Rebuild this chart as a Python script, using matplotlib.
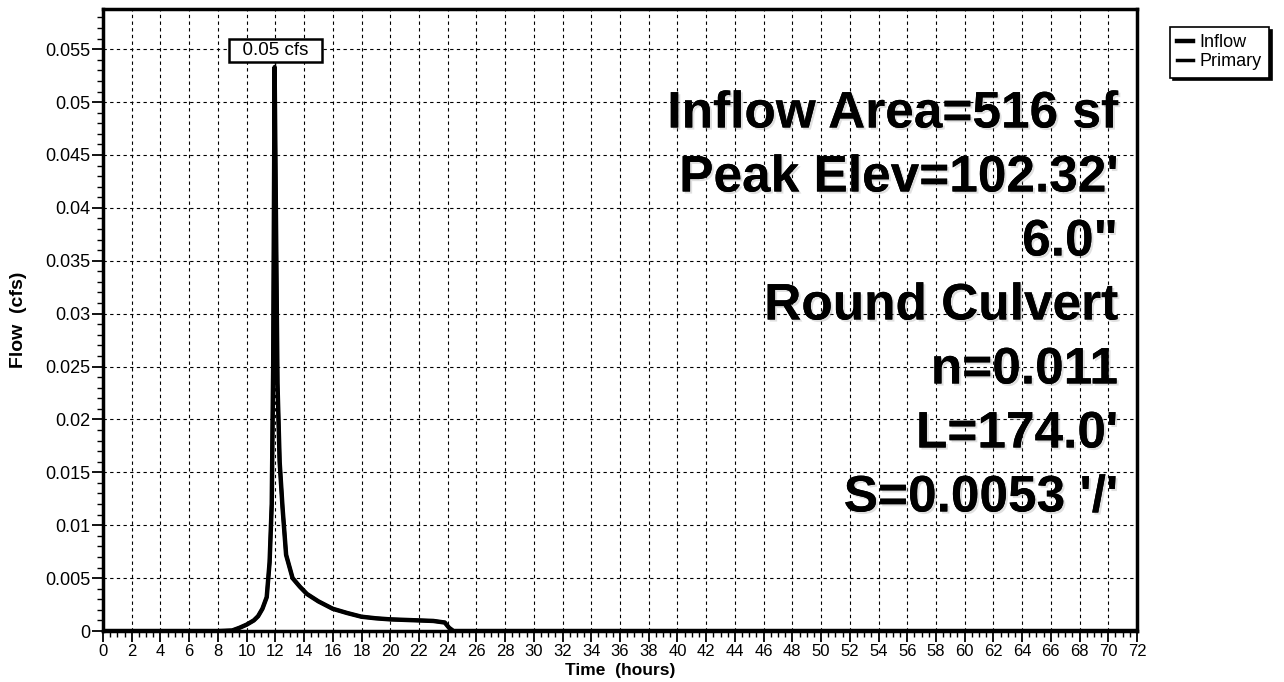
import matplotlib.pyplot as plt
from matplotlib.ticker import MultipleLocator
import matplotlib.patheffects as pe

# hydrograph (hours, cfs)
time_hr = [0, 8.0, 9.0, 9.5, 10.0, 10.5, 10.8, 11.1, 11.4, 11.6, 11.75, 11.85,
           11.95, 12.05, 12.15, 12.3, 12.5, 12.75, 13.2, 13.7, 14.2, 15.0, 16.0,
           17.0, 18.0, 19.0, 20.0, 21.0, 22.0, 23.0, 23.8, 24.1, 24.4, 72]
inflow_cfs = [0, 0, 0.00005, 0.0003, 0.0006, 0.001, 0.0014, 0.0021, 0.0032, 0.0065,
              0.012, 0.025, 0.0533, 0.038, 0.0234, 0.016, 0.0117, 0.0072, 0.005,
              0.0042, 0.0035, 0.0028, 0.0021, 0.0017, 0.00135, 0.0012, 0.0011,
              0.00105, 0.001, 0.00095, 0.0008, 0.0003, 0, 0]
primary_cfs = list(inflow_cfs)

x_ticks = list(range(0, 73, 2))
y_ticks = [0, 0.005, 0.01, 0.015, 0.02, 0.025, 0.03, 0.035, 0.04, 0.045, 0.05, 0.055]
y_labels = ['0', '0.005', '0.01', '0.015', '0.02', '0.025', '0.03', '0.035',
            '0.04', '0.045', '0.05', '0.055']
info_lines = ["Inflow Area=516 sf", "Peak Elev=102.32'", '6.0"', "Round Culvert",
              "n=0.011", "L=174.0'", "S=0.0053 '/'"]
peak_label = "0.05 cfs"

plt.rcParams['font.family'] = ['Liberation Sans', 'DejaVu Sans']

W, H = 1284, 682
fig = plt.figure(figsize=(W / 100, H / 100), dpi=100)
ax = fig.add_axes([103 / W, 1 - 631 / H, (1137 - 103) / W, (631 - 9) / H])

ax.plot(time_hr, inflow_cfs, color='black', lw=3.2, label='Inflow')
ax.plot(time_hr, primary_cfs, color='black', lw=2.5, label='Primary')

ax.set_xlim(0, 72)
ax.set_ylim(0, 0.0588)
ax.set_xticks(x_ticks)
ax.set_xticklabels([str(t) for t in x_ticks])
ax.set_yticks(y_ticks)
ax.set_yticklabels(y_labels)
ax.xaxis.set_minor_locator(MultipleLocator(0.5))
ax.yaxis.set_minor_locator(MultipleLocator(0.001))
ax.tick_params(which='major', direction='out', length=8, width=1.3, pad=1)
ax.tick_params(which='minor', direction='out', length=4, width=1)
ax.tick_params(axis='x', labelsize=12)
ax.tick_params(axis='y', labelsize=13)
ax.grid(True, which='major', color='black', linestyle=(0, (3, 3)), linewidth=0.8)
for s in ax.spines.values():
    s.set_linewidth(2.5)

ax.set_xlabel('Time  (hours)', fontsize=12.5, fontweight='bold', labelpad=3.5)
ax.set_ylabel('Flow  (cfs)', fontsize=14, fontweight='bold')
ax.yaxis.set_label_coords(-76 / 1034, 0.5)

# peak label box with leader line
ax.plot([12, 12], [0.0533, 0.0542], color='black', lw=1)
ax.text(12, 0.05486, '  ' + peak_label + '  ', ha='center', va='center', fontsize=13.5,
        bbox=dict(boxstyle='square,pad=0.16', fc='white', ec='black', lw=1.8))

# info text block on the right
for i, line in enumerate(info_lines):
    ypix = 114 + 64 * i
    ax.text(0.9816, 1 - (ypix - 9) / (631 - 9), line, transform=ax.transAxes,
            ha='right', va='center', fontsize=37, fontweight='bold', color='black',
            path_effects=[pe.withSimplePatchShadow(offset=(1.5, -1.5), shadow_rgbFace='0.6'),
                          pe.Normal()])

leg = fig.legend(loc='upper left', bbox_to_anchor=(1170 / W, 1 - 27 / H),
                 fontsize=13, frameon=True, fancybox=False,
                 shadow={'color': 'black', 'alpha': 1},
                 handlelength=0.85, handletextpad=0.4, borderpad=0.4,
                 labelspacing=0.12, borderaxespad=0)
leg.get_frame().set_edgecolor('black')
leg.get_frame().set_linewidth(1.2)

fig.savefig('out.png', dpi=100)
